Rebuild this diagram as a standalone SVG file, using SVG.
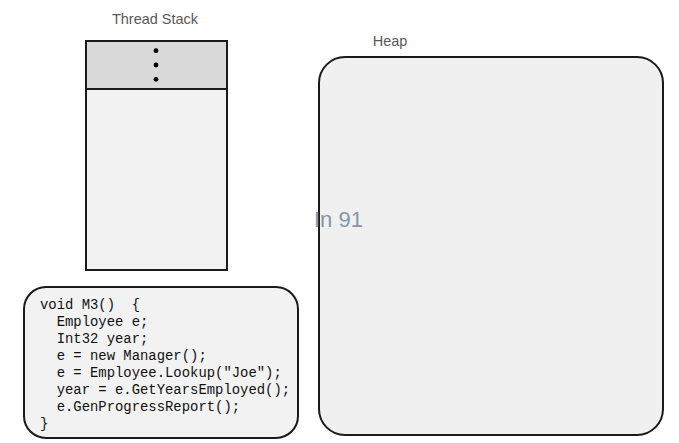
<svg xmlns="http://www.w3.org/2000/svg" width="679" height="443" viewBox="0 0 679 443">
<style>
.title{font-family:"Liberation Sans",Arial,sans-serif;font-size:14.5px;fill:#595959;text-anchor:middle}
.box{stroke:#1a1a1a;stroke-width:2}
.code{font-family:"Liberation Mono","DejaVu Sans Mono",monospace;font-size:13.9px;fill:#111111;white-space:pre}
</style>
<rect width="679" height="443" fill="#ffffff"/>
<g id="stack">
<text class="title" x="155" y="24">Thread Stack</text>
<rect x="86" y="41" width="141" height="48" fill="#d9d9d9" class="box"/>
<rect x="86" y="89" width="141" height="181" fill="#f2f2f2" class="box"/>
<circle cx="156" cy="50.7" r="2.4" fill="#000"/>
<circle cx="156" cy="65" r="2.4" fill="#000"/>
<circle cx="156" cy="79.3" r="2.4" fill="#000"/>
</g>
<g id="heap">
<text class="title" x="390" y="45.5">Heap</text>
<rect x="319" y="57" width="344" height="378" rx="26" ry="26" fill="#f0f0f0" class="box"/>
</g>
<g id="code">
<rect x="24" y="287" width="274" height="151" rx="22" ry="22" fill="#f2f2f2" class="box"/>
<text class="code" x="40" y="309" xml:space="preserve">void M3()  {</text>
<text class="code" x="40" y="326" xml:space="preserve">  Employee e;</text>
<text class="code" x="40" y="343" xml:space="preserve">  Int32 year;</text>
<text class="code" x="40" y="360" xml:space="preserve">  e = new Manager();</text>
<text class="code" x="40" y="377" xml:space="preserve">  e = Employee.Lookup("Joe");</text>
<text class="code" x="40" y="394" xml:space="preserve">  year = e.GetYearsEmployed();</text>
<text class="code" x="40" y="411" xml:space="preserve">  e.GenProgressReport();</text>
<text class="code" x="40" y="428" xml:space="preserve">}</text>
</g>
<g id="connectors"></g>
<text x="314" y="227" font-family="Liberation Sans,Arial,sans-serif" font-size="22" fill="#8595ab">In 91</text>
</svg>
